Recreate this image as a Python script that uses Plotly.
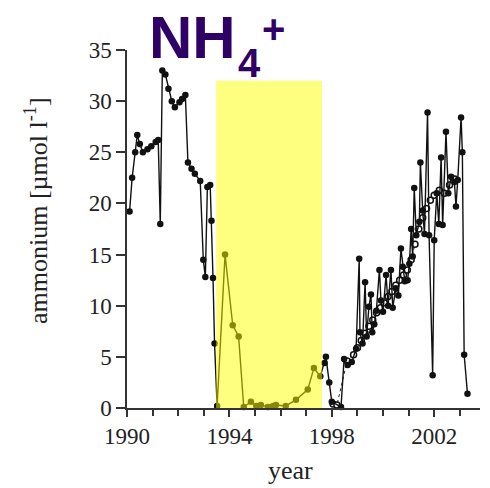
import plotly.graph_objects as go

# Ammonium concentration time series (main sampling, filled markers)
years_main = [
    1990.10, 1990.20, 1990.32, 1990.40, 1990.50, 1990.62, 1990.80, 1990.95,
    1991.12, 1991.22, 1991.30, 1991.38, 1991.50, 1991.62, 1991.75, 1991.87,
    1992.05, 1992.15, 1992.28, 1992.38, 1992.52, 1992.65, 1992.86, 1992.98,
    1993.06, 1993.14, 1993.25, 1993.30, 1993.36, 1993.42, 1993.52, 1993.83,
    1994.13, 1994.36, 1994.56, 1994.84, 1995.05, 1995.23, 1995.50, 1995.70,
    1995.82, 1996.20, 1996.60, 1997.06, 1997.30, 1997.55, 1997.72, 1997.77,
    1997.90, 1998.00, 1998.36, 1998.48, 1998.62, 1998.78, 1998.95, 1999.07,
    1999.10, 1999.20, 1999.30, 1999.36, 1999.45, 1999.53, 1999.58, 1999.66,
    1999.74, 1999.86, 1999.92, 2000.00, 2000.12, 2000.20, 2000.31, 2000.38,
    2000.50, 2000.60, 2000.70, 2000.77, 2000.85, 2000.96, 2001.03, 2001.10,
    2001.16, 2001.22, 2001.30, 2001.42, 2001.46, 2001.55, 2001.62, 2001.74,
    2001.80, 2001.94, 2002.00, 2002.10, 2002.18, 2002.27, 2002.33, 2002.46,
    2002.55, 2002.66, 2002.79, 2002.85, 2002.92, 2003.05, 2003.10, 2003.17,
    2003.30,
]
nh4_main = [
    19.2, 22.5, 25.0, 26.7, 25.8, 25.0, 25.3, 25.6,
    26.0, 26.2, 18.0, 33.0, 32.6, 31.2, 30.0, 29.4,
    29.9, 30.2, 30.6, 24.0, 23.4, 22.9, 22.2, 14.5,
    12.8, 21.6, 21.8, 18.3, 12.7, 6.3, 0.2, 15.0,
    8.1, 7.0, 0.1, 0.6, 0.2, 0.3, 0.1, 0.2,
    0.3, 0.2, 0.8, 1.8, 3.9, 3.1, 4.4, 5.0,
    2.5, 0.6, 0.1, 4.8, 4.2, 4.5, 5.8, 14.6,
    7.4, 6.3, 12.3, 7.0, 9.9, 11.1, 7.4, 8.2,
    9.5, 13.5, 10.5, 9.4, 13.0, 10.0, 13.5, 9.8,
    11.7, 11.0, 15.6, 13.8, 12.4, 12.5, 14.1, 17.5,
    14.8, 21.5, 16.9, 18.2, 24.0, 19.3, 17.0, 28.9,
    16.9, 3.2, 16.4, 21.0, 18.0, 24.5, 17.9, 27.0,
    21.0, 22.6, 22.1, 19.7, 22.3, 28.4, 25.0, 5.2,
    1.4,
]

# Second sampling series (open markers, dotted line)
years_open = [
    1998.05, 1998.20, 1998.60, 1998.85, 1999.00, 1999.15, 1999.30, 1999.45,
    1999.60, 1999.75, 1999.90, 2000.05, 2000.20, 2000.35, 2000.50, 2000.65,
    2000.80, 2000.95, 2001.10, 2001.25, 2001.40, 2001.55, 2001.70, 2001.85,
    2002.00, 2002.20, 2002.40, 2002.60, 2002.80,
]
nh4_open = [
    0.4, 0.3, 4.6, 5.2, 5.9, 6.6, 7.3, 8.0,
    8.6, 9.3, 9.8, 10.3, 10.9, 11.4, 12.0, 12.5,
    13.0, 13.5, 14.5, 16.0, 17.5, 18.6, 19.5, 20.3,
    20.8, 21.3, 21.0, 21.8, 22.4,
]

# Highlighted period
period_start, period_end = 1993.48, 1997.62
period_top = 32.0

major_years = [1990, 1994, 1998, 2002]
y_ticks = [0, 5, 10, 15, 20, 25, 30, 35]

serif = "Liberation Serif, Times New Roman, serif"
axis_col = "#333333"
text_col = "#222222"

fig = go.Figure()

fig.add_trace(go.Scatter(
    x=years_open, y=nh4_open, mode="lines+markers",
    line=dict(color="#222222", width=1, dash="dot"),
    marker=dict(symbol="circle", size=6, color="white",
                line=dict(color="#111111", width=1.5)),
    showlegend=False, cliponaxis=False,
))
fig.add_trace(go.Scatter(
    x=years_main, y=nh4_main, mode="lines+markers",
    line=dict(color="#111111", width=1.4),
    marker=dict(symbol="circle", size=6.5, color="#111111"),
    showlegend=False, cliponaxis=False,
))

fig.add_shape(
    type="rect", xref="x", yref="y",
    x0=period_start, x1=period_end, y0=-0.45, y1=period_top,
    fillcolor="rgb(255,255,0)", opacity=0.5, line_width=0, layer="above",
)

L, R, T, B = 127, 10, 50, 80
W, H = 490, 488
pw, ph = W - L - R, H - T - B


def px_x(x):
    return (x - L) / pw


def px_y(y):
    return (T + ph - y) / ph


# Title: NH4+ built from three pieces
title_col = "#2F0066"
title_font = "Liberation Sans, Arial, sans-serif"
fig.add_annotation(text="<b>NH</b>", x=px_x(147), y=px_y(38), xref="paper", yref="paper",
                   xanchor="left", yanchor="middle", showarrow=False,
                   font=dict(family=title_font, size=60, color=title_col))
fig.add_annotation(text="<b>4</b>", x=px_x(236), y=px_y(63), xref="paper", yref="paper",
                   xanchor="left", yanchor="middle", showarrow=False,
                   font=dict(family=title_font, size=40, color=title_col))
fig.add_annotation(text="<b>+</b>", x=px_x(260), y=px_y(29), xref="paper", yref="paper",
                   xanchor="left", yanchor="middle", showarrow=False,
                   font=dict(family=title_font, size=40, color=title_col))

# Axis titles
fig.add_annotation(text="ammonium [µmol l<sup>-1</sup>]", x=px_x(36), y=px_y(211),
                   xref="paper", yref="paper", xanchor="center", yanchor="middle",
                   textangle=-90, showarrow=False,
                   font=dict(family=serif, size=26, color=text_col))
fig.add_annotation(text="year", x=px_x(290), y=px_y(470),
                   xref="paper", yref="paper", xanchor="center", yanchor="middle",
                   showarrow=False,
                   font=dict(family=serif, size=26, color=text_col))

fig.update_layout(
    width=W, height=H,
    margin=dict(l=L, r=R, t=T, b=B),
    paper_bgcolor="white", plot_bgcolor="white",
    font=dict(family=serif, color=text_col),
)
fig.update_xaxes(
    range=[1990, 1990 + pw / 25.6],
    tickvals=major_years, ticktext=[str(v) for v in major_years],
    ticks="outside", ticklen=7, tickwidth=1.5, tickcolor=axis_col,
    minor=dict(dtick=1, tick0=1990, ticks="outside", ticklen=6,
               tickwidth=1.5, tickcolor=axis_col, showgrid=False),
    showline=True, linecolor=axis_col, linewidth=1.5,
    showgrid=False, zeroline=False,
    tickfont=dict(family=serif, size=23, color=text_col),
)
fig.update_yaxes(
    range=[0, 35], tickvals=y_ticks,
    ticks="outside", ticklen=9, tickwidth=1.5, tickcolor=axis_col,
    showline=True, linecolor=axis_col, linewidth=1.5,
    showgrid=False, zeroline=False,
    tickfont=dict(family=serif, size=23, color=text_col),
)

fig.write_html("out.html")
